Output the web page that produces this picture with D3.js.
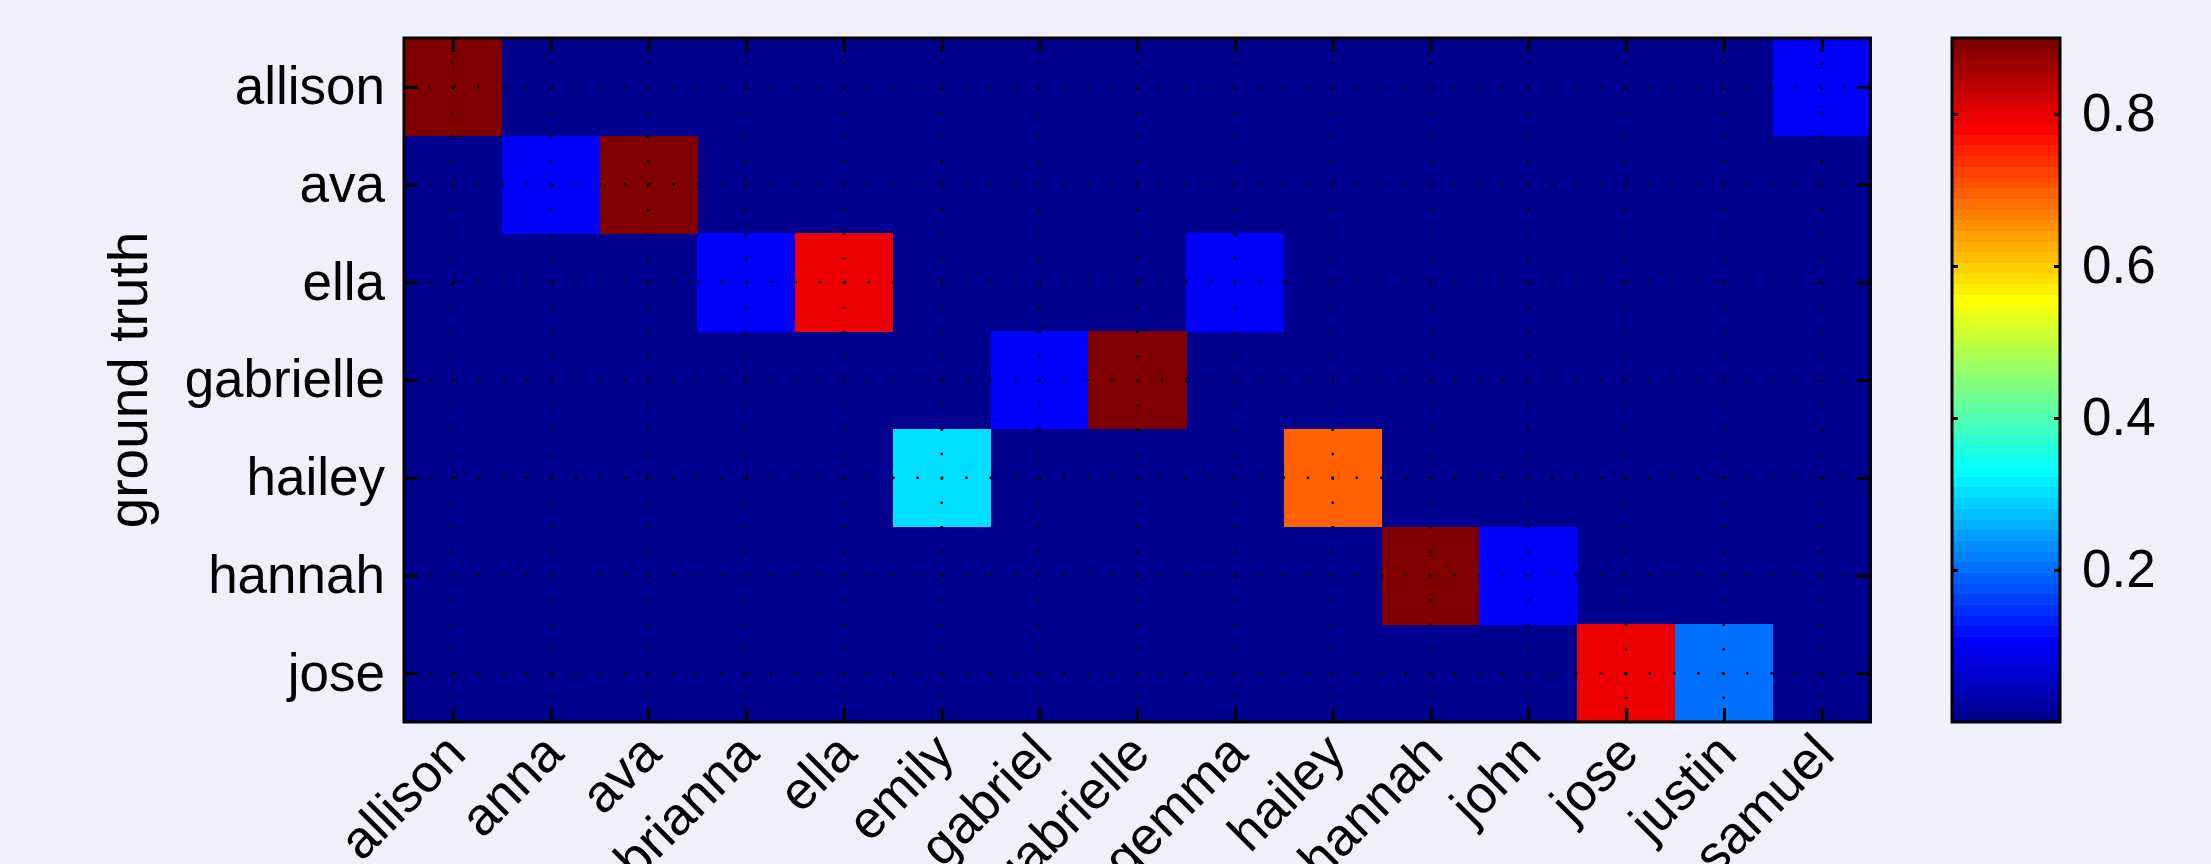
<!DOCTYPE html>
<html>
<head>
<meta charset="utf-8">
<title>confusion matrix</title>
<script src="https://cdn.jsdelivr.net/npm/d3@7"></script>
<style>
  body { margin: 0; background: #f0f0fa; }
  svg { display: block; }
  text { font-family: "Liberation Sans", Arial, Helvetica, sans-serif; fill: #000; }
</style>
</head>
<body>
<svg id="chart"></svg>
<script>
// predicted names (columns)
var predicted = ["allison", "anna", "ava", "brianna", "ella", "emily", "gabriel", "gabrielle",
                 "gemma", "hailey", "hannah", "john", "jose", "justin", "samuel"];
// ground truth names (rows)
var groundTruth = ["allison", "ava", "ella", "gabrielle", "hailey", "hannah", "jose"];

// one row of scores per ground truth name
var rowAllison   = [0.9, 0, 0, 0, 0, 0, 0, 0, 0, 0, 0, 0, 0, 0, 0.1];
var rowAva       = [0, 0.1, 0.9, 0, 0, 0, 0, 0, 0, 0, 0, 0, 0, 0, 0];
var rowElla      = [0, 0, 0, 0.1, 0.8, 0, 0, 0, 0.1, 0, 0, 0, 0, 0, 0];
var rowGabrielle = [0, 0, 0, 0, 0, 0, 0.1, 0.9, 0, 0, 0, 0, 0, 0, 0];
var rowHailey    = [0, 0, 0, 0, 0, 0.3, 0, 0, 0, 0.7, 0, 0, 0, 0, 0];
var rowHannah    = [0, 0, 0, 0, 0, 0, 0, 0, 0, 0, 0.9, 0.1, 0, 0, 0];
var rowJose      = [0, 0, 0, 0, 0, 0, 0, 0, 0, 0, 0, 0, 0.8, 0.2, 0];

var colorTicks = [0.2, 0.4, 0.6, 0.8];
var colorRange = [0, 0.9];

var rows = [rowAllison, rowAva, rowElla, rowGabrielle, rowHailey, rowHannah, rowJose];

var W = 2211, H = 864;
var plot = { left: 404, right: 1870.5, top: 38, bottom: 722 };
var bar = { left: 1952, right: 2060 };
var fontSize = 53;

var svg = d3.select("#chart").attr("width", W).attr("height", H);
svg.append("rect").attr("width", W).attr("height", H).attr("fill", "#f0f0fa");

// matlab jet(64)
function jet(k) { // k = 1..64
    var r, g, b;
    if (k <= 8) { r = 0; g = 0; b = 0.5 + k / 16; }
    else if (k <= 24) { r = 0; g = (k - 8) / 16; b = 1; }
    else if (k <= 40) { r = (k - 24) / 16; g = 1; b = 1 - (k - 24) / 16; }
    else if (k <= 56) { r = 1; g = 1 - (k - 40) / 16; b = 0; }
    else { r = 1 - (k - 56) / 16; g = 0; b = 0; }
    return d3.rgb(r * 255, g * 255, b * 255).toString();
}
function colorOf(v) {
    var k = Math.floor((v - colorRange[0]) / (colorRange[1] - colorRange[0]) * 64) + 1;
    k = Math.max(1, Math.min(64, k));
    return jet(k);
}

var x = d3.scaleBand().domain(predicted).range([plot.left, plot.right]).padding(0);
var y = d3.scaleBand().domain(groundTruth).range([plot.top, plot.bottom]).padding(0);

var cells = [];
rows.forEach(function (row, i) {
    row.forEach(function (v, j) {
        cells.push({ truth: groundTruth[i], pred: predicted[j], value: v });
    });
});

// background of the matrix, so there are no seams between cells
svg.append("rect")
    .attr("x", plot.left).attr("y", plot.top)
    .attr("width", plot.right - plot.left).attr("height", plot.bottom - plot.top)
    .attr("fill", colorOf(0));

svg.append("g").attr("id", "cells")
    .attr("shape-rendering", "crispEdges")
    .selectAll("rect")
    .data(cells.filter(function (d) { return d.value > 0; }))
    .enter().append("rect")
    .attr("x", function (d) { return x(d.pred); })
    .attr("y", function (d) { return y(d.truth); })
    .attr("width", x.bandwidth() + 0.5)
    .attr("height", y.bandwidth() + 0.5)
    .attr("fill", function (d) { return colorOf(d.value); });

// dotted grid at tick positions
var grid = svg.append("g").attr("id", "grid")
    .attr("stroke", "#000").attr("stroke-width", 2.5)
    .attr("stroke-dasharray", "2.5 21.9");
grid.selectAll("line.v")
    .data(predicted)
    .enter().append("line")
    .attr("class", "v")
    .attr("x1", function (d) { return x(d) + x.bandwidth() / 2; })
    .attr("x2", function (d) { return x(d) + x.bandwidth() / 2; })
    .attr("y1", plot.top).attr("y2", plot.bottom);
grid.selectAll("line.h")
    .data(groundTruth)
    .enter().append("line")
    .attr("class", "h")
    .attr("y1", function (d) { return y(d) + y.bandwidth() / 2; })
    .attr("y2", function (d) { return y(d) + y.bandwidth() / 2; })
    .attr("x1", plot.left).attr("x2", plot.right);

// inward ticks on all four sides
var xc = d3.scalePoint().domain(predicted)
    .range([plot.left + x.bandwidth() / 2, plot.right - x.bandwidth() / 2]);
var yc = d3.scalePoint().domain(groundTruth)
    .range([plot.top + y.bandwidth() / 2, plot.bottom - y.bandwidth() / 2]);

function styleAxis(g) {
    g.select(".domain").remove();
    g.selectAll(".tick line").attr("stroke", "#000").attr("stroke-width", 3);
}

svg.append("g").attr("transform", "translate(0," + plot.bottom + ")")
    .call(d3.axisBottom(xc).tickSize(-14).tickFormat(""))
    .call(styleAxis);
svg.append("g").attr("transform", "translate(0," + plot.top + ")")
    .call(d3.axisTop(xc).tickSize(-14).tickFormat(""))
    .call(styleAxis);
svg.append("g").attr("transform", "translate(" + plot.right + ",0)")
    .call(d3.axisRight(yc).tickSize(-14).tickFormat(""))
    .call(styleAxis);
var yAxis = svg.append("g").attr("transform", "translate(" + plot.left + ",0)")
    .call(d3.axisLeft(yc).tickSize(-14).tickPadding(19))
    .call(styleAxis);
yAxis.selectAll(".tick text")
    .attr("font-size", fontSize)
    .attr("font-family", "Liberation Sans, Arial, sans-serif")
    .attr("fill", "#000");

// box
svg.append("rect")
    .attr("x", plot.left).attr("y", plot.top)
    .attr("width", plot.right - plot.left).attr("height", plot.bottom - plot.top)
    .attr("fill", "none").attr("stroke", "#000").attr("stroke-width", 3);

// rotated x tick labels (cut by the bottom edge, as in the original)
svg.append("g").attr("id", "xlabels")
    .selectAll("text")
    .data(predicted)
    .enter().append("text")
    .attr("transform", function (d) {
        return "translate(" + (xc(d) + 2) + "," + (plot.bottom + 21) + ") rotate(-45)";
    })
    .attr("text-anchor", "end")
    .attr("dy", "0.35em")
    .attr("font-size", fontSize)
    .text(function (d) { return d; });

// y axis title
svg.append("text")
    .attr("transform", "translate(147," + ((plot.top + plot.bottom) / 2) + ") rotate(-90)")
    .attr("text-anchor", "middle")
    .attr("font-size", 55)
    .text("ground truth");

// colorbar
var cy = d3.scaleLinear().domain(colorRange).range([plot.bottom, plot.top]);
var bands = d3.range(1, 65);
var bandH = (plot.bottom - plot.top) / 64;
svg.append("g").attr("id", "colorbar")
    .attr("shape-rendering", "crispEdges")
    .selectAll("rect")
    .data(bands)
    .enter().append("rect")
    .attr("x", bar.left)
    .attr("y", function (k) { return plot.bottom - k * bandH; })
    .attr("width", bar.right - bar.left)
    .attr("height", bandH + 0.6)
    .attr("fill", function (k) { return jet(k); });

svg.append("g").attr("transform", "translate(" + bar.left + ",0)")
    .call(d3.axisLeft(cy).tickValues(colorTicks).tickSize(-6).tickFormat(""))
    .call(styleAxis);
var cAxis = svg.append("g").attr("transform", "translate(" + bar.right + ",0)")
    .call(d3.axisRight(cy).tickValues(colorTicks).tickSize(-6).tickPadding(22)
        .tickFormat(d3.format(".1f")))
    .call(styleAxis);
cAxis.selectAll(".tick text")
    .attr("font-size", fontSize)
    .attr("font-family", "Liberation Sans, Arial, sans-serif")
    .attr("fill", "#000");

svg.append("rect")
    .attr("x", bar.left).attr("y", plot.top)
    .attr("width", bar.right - bar.left).attr("height", plot.bottom - plot.top)
    .attr("fill", "none").attr("stroke", "#000").attr("stroke-width", 3);
</script>
</body>
</html>
